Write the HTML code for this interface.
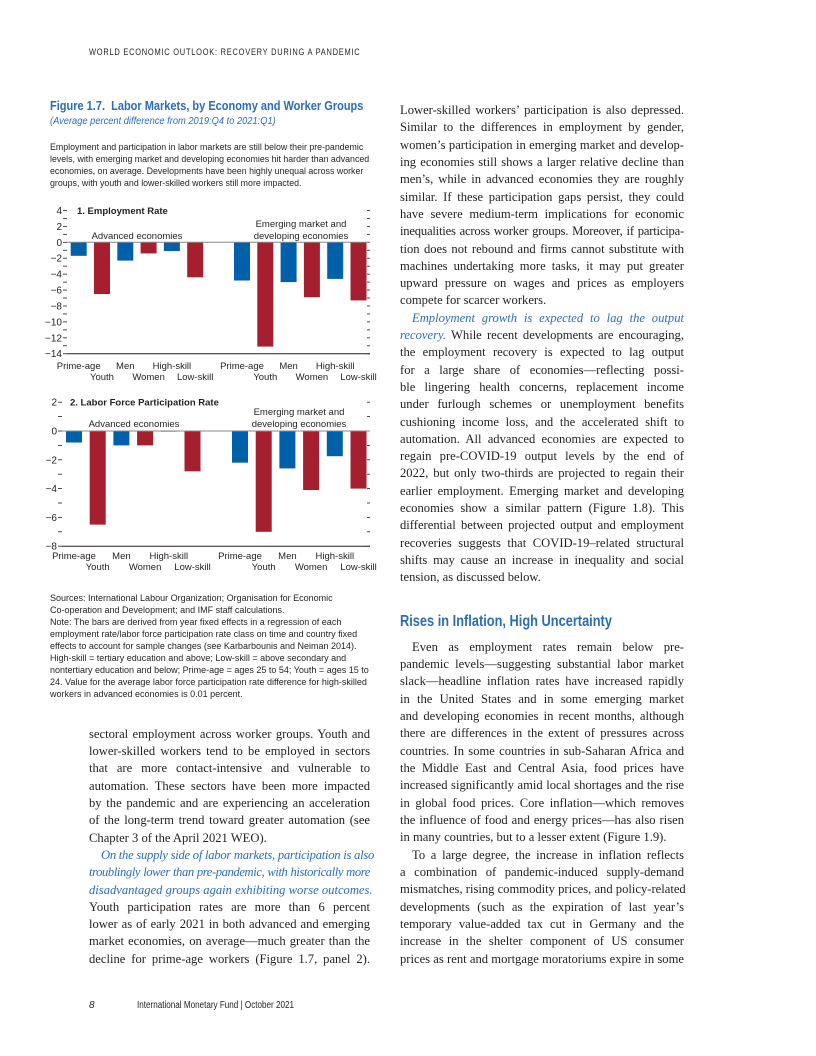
<!DOCTYPE html>
<html><head><meta charset="utf-8">
<style>
body{margin:0;background:#fff}
#page{position:relative;width:816px;height:1056px;overflow:hidden;background:#fff}
.l{position:absolute;white-space:nowrap;line-height:14px}
.s{font-family:"Liberation Serif",serif;font-size:12.6px;color:#231f20}
.j{text-align:justify;text-align-last:justify}
.r{left:400px;width:284px}
.b{left:89px;width:281px}
.n{font-family:"Liberation Sans Narrow","Liberation Sans",sans-serif;color:#231f20}
.it{font-style:italic;color:#2b6db5}
.sq{transform-origin:0 0}
svg text{font-family:"Liberation Sans Narrow","Liberation Sans",sans-serif;fill:#231f20}
</style></head><body>
<div id="page">
<div class="l n sq" style="left:89px;top:45px;font-size:9px;letter-spacing:0.9px;transform:scaleX(0.83)">WORLD ECONOMIC OUTLOOK: RECOVERY DURING A PANDEMIC</div>

<div class="l n sq" style="left:50px;top:99px;font-size:12.5px;font-weight:bold;color:#2b6db5;transform:scaleX(0.88)">Figure 1.7.&nbsp; Labor Markets, by Economy and Worker Groups</div>
<div class="l n sq" style="left:50px;top:115px;font-size:10px;font-style:italic;color:#2b6db5;transform:scaleX(0.93)">(Average percent difference from 2019:Q4 to 2021:Q1)</div>
<div class="n sq" style="position:absolute;left:50px;top:141px;font-size:9px;line-height:12px;width:340px;white-space:nowrap;transform:scaleX(0.98)">
Employment and participation in labor markets are still below their pre-pandemic<br>levels, with emerging market and developing economies hit harder than advanced<br>economies, on average. Developments have been highly unequal across worker<br>groups, with youth and lower-skilled workers still more impacted.</div>

<svg id="charts" width="816" height="1056" style="position:absolute;left:0;top:0"></svg>

<div class="n" style="position:absolute;left:50px;top:592px;font-size:9px;line-height:12px;width:330px;white-space:nowrap">
Sources: International Labour Organization; Organisation for Economic<br>Co-operation and Development; and IMF staff calculations.<br>Note: The bars are derived from year fixed effects in a regression of each<br>employment rate/labor force participation rate class on time and country fixed<br>effects to account for sample changes (see Karbarbounis and Neiman 2014).<br>High-skill = tertiary education and above; Low-skill = above secondary and<br>nontertiary education and below; Prime-age = ages 25 to 54; Youth = ages 15 to<br>24. Value for the average labor force participation rate difference for high-skilled<br>workers in advanced economies is 0.01 percent.</div>

<div>
<div class="l s b j" style="top:727px">sectoral employment across worker groups. Youth and</div>
<div class="l s b j" style="top:744px">lower-skilled workers tend to be employed in sectors</div>
<div class="l s b j" style="top:761px">that are more contact-intensive and vulnerable to</div>
<div class="l s b j" style="top:779px">automation. These sectors have been more impacted</div>
<div class="l s b j" style="top:796px">by the pandemic and are experiencing an acceleration</div>
<div class="l s b j" style="top:813px">of the long-term trend toward greater automation (see</div>
<div class="l s b" style="top:831px">Chapter 3 of the April 2021 WEO).</div>
<div class="l s b j it" style="top:848px;left:101px;width:269px;letter-spacing:-0.25px">On the supply side of labor markets, participation is also</div>
<div class="l s b j it" style="top:865px;letter-spacing:-0.4px">troublingly lower than pre-pandemic, with historically more</div>
<div class="l s b it" style="top:883px">disadvantaged groups again exhibiting worse outcomes.</div>
<div class="l s b j" style="top:900px">Youth participation rates are more than 6 percent</div>
<div class="l s b j" style="top:917px">lower as of early 2021 in both advanced and emerging</div>
<div class="l s b j" style="top:934px">market economies, on average—much greater than the</div>
<div class="l s b j" style="top:952px">decline for prime-age workers (Figure 1.7, panel 2).</div>
</div>

<div>
<div class="l s r j" style="top:103px">Lower-skilled workers’ participation is also depressed.</div>
<div class="l s r j" style="top:120px">Similar to the differences in employment by gender,</div>
<div class="l s r j" style="top:138px">women’s participation in emerging market and develop-</div>
<div class="l s r j" style="top:155px">ing economies still shows a larger relative decline than</div>
<div class="l s r j" style="top:172px">men’s, while in advanced economies they are roughly</div>
<div class="l s r j" style="top:190px">similar. If these participation gaps persist, they could</div>
<div class="l s r j" style="top:207px">have severe medium-term implications for economic</div>
<div class="l s r j" style="top:224px;letter-spacing:-0.2px">inequalities across worker groups. Moreover, if participa-</div>
<div class="l s r j" style="top:242px">tion does not rebound and firms cannot substitute with</div>
<div class="l s r j" style="top:259px">machines undertaking more tasks, it may put greater</div>
<div class="l s r j" style="top:276px">upward pressure on wages and prices as employers</div>
<div class="l s r" style="top:293px">compete for scarcer workers.</div>
<div class="l s r j it" style="top:311px;left:412px;width:272px">Employment growth is expected to lag the output</div>
<div class="l s r j" style="top:328px"><i style="color:#2b6db5">recovery.</i> While recent developments are encouraging,</div>
<div class="l s r j" style="top:345px">the employment recovery is expected to lag output</div>
<div class="l s r j" style="top:363px">for a large share of economies—reflecting possi-</div>
<div class="l s r j" style="top:380px">ble lingering health concerns, replacement income</div>
<div class="l s r j" style="top:397px">under furlough schemes or unemployment benefits</div>
<div class="l s r j" style="top:415px">cushioning income loss, and the accelerated shift to</div>
<div class="l s r j" style="top:432px">automation. All advanced economies are expected to</div>
<div class="l s r j" style="top:449px">regain pre-COVID-19 output levels by the end of</div>
<div class="l s r j" style="top:466px">2022, but only two-thirds are projected to regain their</div>
<div class="l s r j" style="top:484px">earlier employment. Emerging market and developing</div>
<div class="l s r j" style="top:501px">economies show a similar pattern (Figure 1.8). This</div>
<div class="l s r j" style="top:518px">differential between projected output and employment</div>
<div class="l s r j" style="top:536px">recoveries suggests that COVID-19–related structural</div>
<div class="l s r j" style="top:553px">shifts may cause an increase in inequality and social</div>
<div class="l s r" style="top:570px">tension, as discussed below.</div>
<div class="l n sq" style="left:400px;top:612px;font-size:16px;font-weight:bold;color:#2b6db5;line-height:20px;transform:scaleX(0.8)">Rises in Inflation, High Uncertainty</div>
<div class="l s r j" style="top:640px;left:412px;width:272px">Even as employment rates remain below pre-</div>
<div class="l s r j" style="top:657px">pandemic levels—suggesting substantial labor market</div>
<div class="l s r j" style="top:674px">slack—headline inflation rates have increased rapidly</div>
<div class="l s r j" style="top:692px">in the United States and in some emerging market</div>
<div class="l s r j" style="top:709px">and developing economies in recent months, although</div>
<div class="l s r j" style="top:726px">there are differences in the extent of pressures across</div>
<div class="l s r j" style="top:744px">countries. In some countries in sub-Saharan Africa and</div>
<div class="l s r j" style="top:761px">the Middle East and Central Asia, food prices have</div>
<div class="l s r j" style="top:778px">increased significantly amid local shortages and the rise</div>
<div class="l s r j" style="top:796px">in global food prices. Core inflation—which removes</div>
<div class="l s r j" style="top:813px">the influence of food and energy prices—has also risen</div>
<div class="l s r" style="top:830px">in many countries, but to a lesser extent (Figure 1.9).</div>
<div class="l s r j" style="top:848px;left:412px;width:272px">To a large degree, the increase in inflation reflects</div>
<div class="l s r j" style="top:865px">a combination of pandemic-induced supply-demand</div>
<div class="l s r j" style="top:882px">mismatches, rising commodity prices, and policy-related</div>
<div class="l s r j" style="top:900px">developments (such as the expiration of last year’s</div>
<div class="l s r j" style="top:917px">temporary value-added tax cut in Germany and the</div>
<div class="l s r j" style="top:934px">increase in the shelter component of US consumer</div>
<div class="l s r j" style="top:952px">prices as rent and mortgage moratoriums expire in some</div>
</div>

<div class="l n" style="left:89px;top:999px;font-size:10px;font-style:italic">8</div>
<div class="l n sq" style="left:137px;top:999px;font-size:10px;transform:scaleX(0.81)">International Monetary Fund | October 2021</div>
</div>

<script>
const categories = ["Prime-age","Youth","Men","Women","High-skill","Low-skill"];
const groups = ["Advanced economies","Emerging market and developing economies"];
const employmentAE = [-1.7,-6.5,-2.3,-1.4,-1.1,-4.4];
const employmentEMDE = [-4.8,-13.1,-5.0,-6.9,-4.6,-7.3];
const participationAE = [-0.8,-6.5,-1.0,-1.0,0.01,-2.8];
const participationEMDE = [-2.2,-7.0,-2.6,-4.1,-1.75,-4.0];
const ticks1 = [4,2,0,-2,-4,-6,-8,-10,-12,-14];
const ticks2 = [2,0,-2,-4,-6,-8];

const NS="http://www.w3.org/2000/svg";
const svg=document.getElementById('charts');
function mk(tag,attrs,parent){const e=document.createElementNS(NS,tag);for(const k in attrs)e.setAttribute(k,attrs[k]);(parent||svg).appendChild(e);return e;}
function lab(s){return s<0?'\u2212'+Math.abs(s):String(s);}

function panel(cfg){
  const g=mk('g',{});
  
  
  const y=v=>cfg.zeroY - v*cfg.pxPerUnit;
  const xc=(grp,i)=>cfg.x0 + grp*cfg.groupOffset + i*cfg.step;
  const yMin=cfg.ticks[cfg.ticks.length-1], yMax=cfg.ticks[0];
  for(let v=yMin; v<=yMax; v++){
    const major=cfg.ticks.includes(v);
    const t=mk('line',{x1:cfg.axisL-4,x2:cfg.axisL,y1:y(v),y2:y(v),stroke:'#231f20','stroke-width':0.8},g);
    
    
    const t2=mk('line',{x1:cfg.axisR-3,x2:cfg.axisR,y1:y(v),y2:y(v),stroke:'#231f20','stroke-width':0.8},g);
    
    
    if(major){
      const tx=mk('text',{x:cfg.axisL-5,y:y(v)+3.5,'text-anchor':'end','font-size':10},g);
      tx.textContent=lab(v);
      
      
    }
  }
  [cfg.ae,cfg.em].forEach((arr,grp)=>{
    arr.forEach((v,i)=>{
      const top=Math.min(y(0),y(v)), h=Math.max(Math.abs(y(v)-y(0)),0.8);
      const r=mk('rect',{x:xc(grp,i)-8,y:top,width:16,height:h,fill:i%2?'#a51f2f':'#0061aa'},g);
      
      
    });
    categories.forEach((c,i)=>{
      const tx=mk('text',{x:xc(grp,i),y:cfg.labelY+(i%2?11:0),'text-anchor':'middle','font-size':9.5},g);
      tx.textContent=c;
      
      
    });
  });
  const z=mk('line',{x1:cfg.axisL,x2:cfg.axisR,y1:y(0),y2:y(0),stroke:'#888','stroke-width':1},g);
  
  
  const base=mk('line',{x1:cfg.axisL,x2:cfg.axisR,y1:y(yMin),y2:y(yMin),stroke:'#231f20','stroke-width':1},g);
  
  
  const ti=mk('text',{x:cfg.titleX,y:y(yMax)+3.5,'font-size':9.5,'font-weight':'bold'},g);
  ti.textContent=cfg.title;
  
  
  const a1=mk('text',{x:cfg.aeX,y:cfg.aeY,'text-anchor':'middle','font-size':9.5},g);
  a1.textContent=groups[0];
  
  
  const a2=mk('text',{x:cfg.emX,y:cfg.aeY-12,'text-anchor':'middle','font-size':9.5},g);
  a2.textContent='Emerging market and';
  
  
  const a3=mk('text',{x:cfg.emX,y:cfg.aeY,'text-anchor':'middle','font-size':9.5},g);
  a3.textContent='developing economies';
  
  
}
panel({name:'employment-rate-panel',ae:employmentAE,em:employmentEMDE,ticks:ticks1,zeroY:242.3,pxPerUnit:7.96,
  axisL:67,axisR:370,x0:78.7,step:23.3,groupOffset:163.3,labelY:369,title:'1. Employment Rate',titleX:77,
  aeX:137,aeY:239,emX:301});
panel({name:'labor-force-participation-panel',ae:participationAE,em:participationEMDE,ticks:ticks2,zeroY:431,pxPerUnit:14.4,
  axisL:62,axisR:370,x0:74,step:23.7,groupOffset:166,labelY:559,title:'2. Labor Force Participation Rate',titleX:70,
  aeX:134,aeY:427,emX:299});
</script>
</body></html>
